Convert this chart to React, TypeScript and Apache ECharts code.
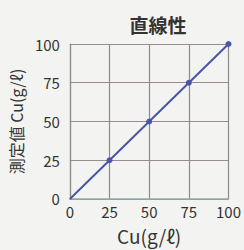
import React, { useEffect, useRef } from "react";
import * as echarts from "echarts";

const title = "直線性";
const xName = "Cu(g/ℓ)";
const yName = "測定値 Cu(g/ℓ)";
const xValues = [0, 25, 50, 75, 100];
const yValues = [0, 25, 50, 75, 100];

export default function App() {
  const ref = useRef<HTMLDivElement>(null);
  useEffect(() => {
    const chart = echarts.init(ref.current!, undefined, { renderer: "svg" });
    const font = "'Noto Sans CJK JP', sans-serif";
    chart.setOption({
      animation: false,
      backgroundColor: "#f3f3f1",
      title: {
        text: title,
        left: 153,
        top: 10,
        textAlign: "center",
        textStyle: { fontFamily: font, fontSize: 19, fontWeight: "bold", color: "#333" },
      },
      grid: { left: 68, right: 13, top: 44, bottom: 46 },
      xAxis: {
        type: "value",
        min: 0,
        max: 100,
        interval: 25,
        name: xName,
        nameLocation: "middle",
        nameGap: 27,
        nameTextStyle: { fontFamily: font, fontSize: 19, color: "#333" },
        axisLine: { show: true, lineStyle: { color: "#8ab0a8", width: 1.5 } },
        axisTick: { show: false },
        axisLabel: { fontFamily: font, fontSize: 15, color: "#333", margin: 5 },
        splitLine: { show: true, lineStyle: { color: "#8a8a8a", width: 1.2 } },
      },
      yAxis: {
        type: "value",
        min: 0,
        max: 100,
        interval: 25,
        name: yName,
        nameLocation: "middle",
        nameGap: 43,
        nameTextStyle: { fontFamily: font, fontSize: 16, color: "#333" },
        axisLine: { show: true, lineStyle: { color: "#8a8a8a", width: 1.2 } },
        axisTick: { show: false },
        axisLabel: { fontFamily: font, fontSize: 15, color: "#333", margin: 10 },
        splitLine: { show: true, lineStyle: { color: "#9a8a92", width: 1.2 } },
      },
      series: [
        {
          type: "line",
          data: xValues.map((x, i) => [x, yValues[i]]),
          symbol: "circle",
          symbolSize: (v: number[]) => (v[0] === 0 ? 0 : 6),
          lineStyle: { color: "#4a56a6", width: 2 },
          itemStyle: { color: "#4a56a6" },
        },
      ],
    });
    return () => chart.dispose();
  }, []);
  return (
    <div
      ref={ref}
      style={{ position: "fixed", left: 0, top: 0, width: 244, height: 250 }}
    />
  );
}
